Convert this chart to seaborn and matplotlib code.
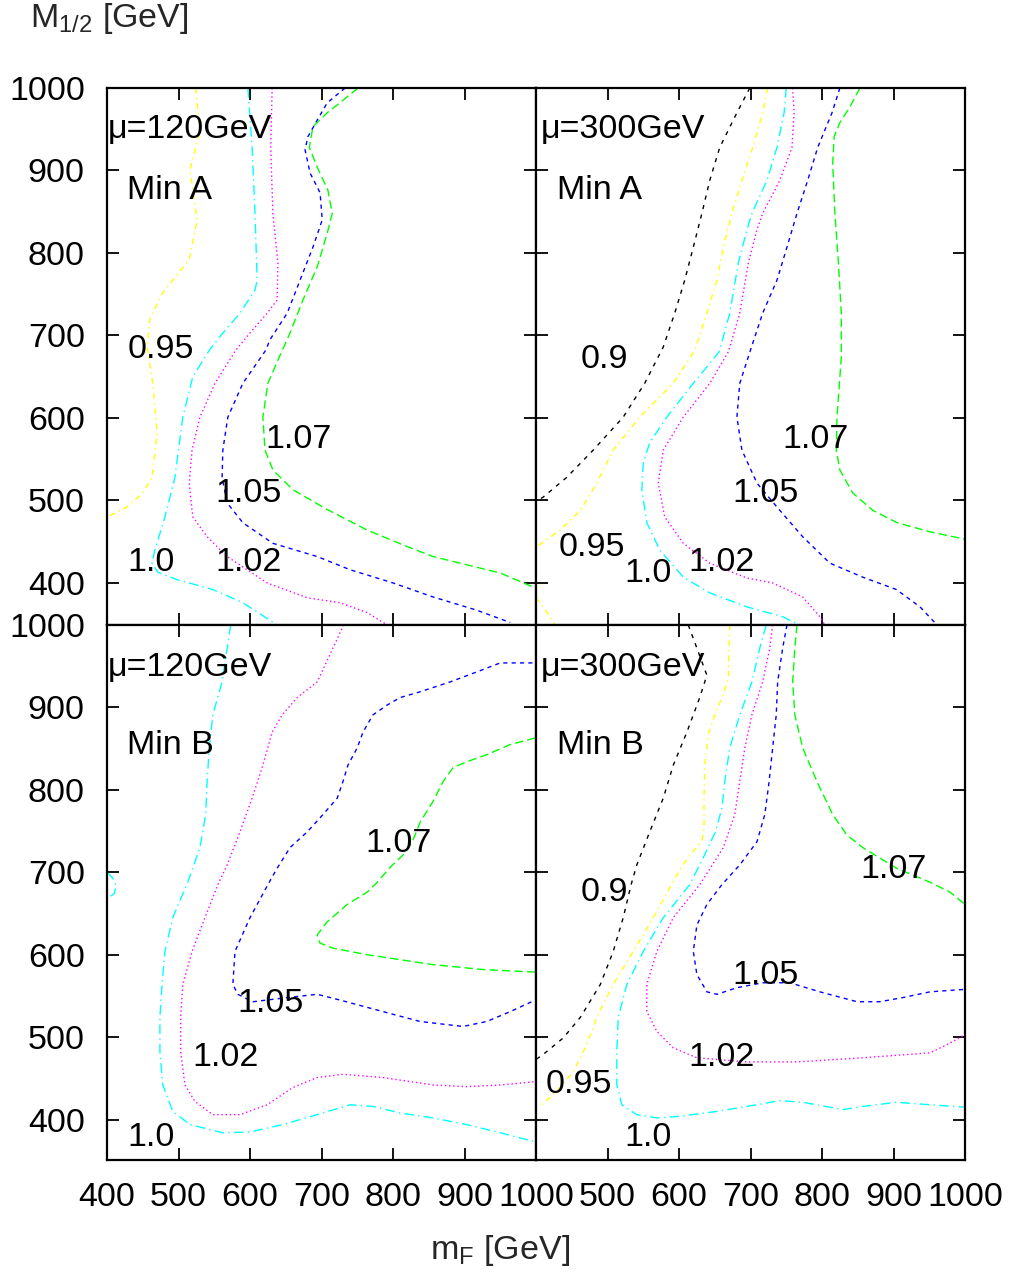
import numpy as np
import pandas as pd
import matplotlib
matplotlib.use("Agg")
import matplotlib.pyplot as plt
import matplotlib.transforms as mtransforms
import seaborn as sns

# ---------------- data ----------------
# Panel A120: mu=120GeV, Min A
A120_c095 = [(524,1000),(530,949),(516,901),(526,840),(515,792),(478,752),(460,720),(456,686),(464,642),(470,582),(463,528),(450,509),(428,492),(400,480)]
A120_c100 = [(597,1000),(603,928),(607,848),(610,767),(607,755),(586,727),(562,703),(543,682),(520,650),(506,601),(495,528),(481,480),(467,440),(463,424),(471,413),(498,404),(548,392),(590,376),(638,349)]
A120_c102 = [(631,1000),(629,928),(632,848),(639,788),(638,743),(624,727),(600,703),(580,682),(551,642),(530,601),(519,561),(515,521),(520,480),(540,456),(568,432),(624,400),(680,382),(726,376),(764,364),(792,349)]
A120_c105 = [(733,1000),(708,982),(694,961),(681,941),(677,925),(684,897),(698,873),(701,840),(688,807),(670,767),(652,727),(628,695),(622,682),(590,642),(569,601),(562,561),(561,528),(568,497),(590,473),(632,448),(694,432),(740,416),(800,400),(856,383),(917,367),(964,352)]
A120_c107 = [(751,1000),(730,985),(708,970),(688,953),(683,928),(694,904),(709,876),(715,848),(708,824),(694,783),(674,743),(656,703),(642,676),(625,642),(618,601),(621,561),(632,537),(660,513),(708,489),(764,464),(820,444),(856,432),(903,422),(950,412),(999,394)]

# Panel A300: mu=300GeV, Min A
A300_c090 = [(699,1000),(681,970),(657,928),(643,888),(632,848),(620,807),(608,767),(594,727),(578,686),(552,642),(522,601),(480,561),(443,528),(410,504),(400,499)]
A300_c095 = [(724,1000),(717,970),(703,928),(688,888),(674,848),(662,807),(653,767),(639,727),(622,682),(592,642),(545,601),(508,561),(485,521),(462,488),(434,464),(401,444)]
A300_c095b = [(400,382),(413,367),(427,349)]
A300_c100 = [(750,1000),(747,970),(737,928),(723,888),(702,848),(695,828),(683,788),(671,727),(656,680),(620,642),(583,601),(559,570),(550,545),(548,513),(555,473),(573,440),(606,407),(643,388),(695,371),(745,359),(769,349)]
A300_c102 = [(759,1000),(761,970),(758,928),(741,888),(717,848),(709,828),(697,788),(685,727),(669,680),(643,642),(606,601),(578,561),(571,521),(580,480),(606,448),(643,424),(695,406),(731,400),(773,383),(797,359),(804,349)]
A300_c105 = [(825,1000),(814,970),(794,928),(780,888),(765,848),(751,807),(737,767),(717,727),(701,685),(685,642),(681,601),(688,561),(709,521),(737,492),(773,456),(811,424),(857,407),(904,392),(937,371),(961,349)]
A300_c107 = [(853,1000),(839,977),(825,958),(817,941),(815,909),(818,848),(823,788),(827,727),(827,674),(821,601),(820,561),(825,537),(843,509),(871,488),(905,473),(951,462),(1000,453)]

# Panel B120: mu=120GeV, Min B
B120_c100 = [(573,1000),(561,931),(548,891),(543,851),(540,810),(538,770),(530,730),(513,688),(492,645),(481,604),(477,564),(474,524),(474,482),(478,442),(492,410),(516,394),(562,384),(600,385),(646,394),(694,406),(740,418),(772,416),(810,408),(856,402),(903,394),(950,384),(999,373)]
B120_c100b = [(400,700),(408,693),(413,684),(410,674),(400,668)]
B120_c102 = [(731,1000),(716,972),(694,931),(666,912),(645,891),(631,870),(618,830),(603,790),(586,749),(568,709),(555,685),(537,645),(519,604),(506,564),(503,524),(503,482),(509,442),(523,422),(548,406),(586,406),(624,418),(660,439),(694,451),(730,455),(786,451),(856,442),(903,440),(950,442),(999,446)]
B120_c105 = [(995,954),(950,954),(917,943),(880,931),(838,919),(810,912),(792,903),(772,891),(758,870),(750,851),(737,830),(730,810),(722,790),(702,770),(680,749),(656,730),(638,705),(625,685),(600,645),(579,604),(576,564),(583,552),(604,543),(652,548),(694,552),(726,545),(786,531),(838,519),(898,513),(931,519),(964,531),(999,545)]
B120_c107 = [(999,863),(964,855),(932,843),(903,834),(884,827),(870,810),(856,786),(838,761),(827,737),(814,721),(796,706),(778,688),(764,676),(736,661),(708,640),(694,624),(698,614),(716,608),(764,600),(810,594),(856,588),(926,582),(999,579)]

# Panel B300: mu=300GeV, Min B
B300_c090 = [(613,1000),(625,972),(639,939),(629,912),(611,870),(592,830),(578,790),(559,749),(541,709),(533,685),(522,645),(508,604),(490,564),(462,524),(438,499),(410,479),(400,473)]
B300_c095 = [(671,1000),(670,972),(669,936),(660,912),(650,891),(641,867),(636,830),(635,790),(635,754),(632,737),(615,721),(597,697),(587,681),(564,645),(536,604),(508,564),(485,524),(471,491),(452,458),(429,434),(408,418)]
B300_c100 = [(722,1000),(713,972),(702,931),(685,891),(671,851),(664,810),(660,778),(651,749),(634,718),(615,685),(578,645),(550,604),(527,564),(515,524),(513,482),(513,442),(520,418),(541,406),(569,402),(601,404),(653,410),(695,416),(741,423),(773,421),(811,415),(829,412),(857,416),(904,421),(951,418),(1000,415)]
B300_c102 = [(731,1000),(727,972),(717,931),(702,891),(692,851),(685,810),(678,770),(662,730),(629,685),(592,645),(569,604),(555,564),(555,531),(569,507),(592,487),(625,475),(695,470),(765,470),(857,475),(951,481),(975,491),(1000,503)]
B300_c105 = [(751,1000),(745,972),(738,931),(736,891),(731,851),(726,810),(720,770),(709,737),(685,709),(660,685),(639,661),(625,636),(620,604),(625,576),(639,555),(653,552),(681,560),(717,566),(755,566),(797,555),(849,543),(881,543),(913,548),(951,555),(1000,558)]
B300_c107 = [(765,1000),(762,972),(759,931),(762,891),(773,851),(793,810),(815,770),(835,745),(857,730),(904,705),(951,688),(979,676),(1000,661)]

# contour labels: (x, y, text)
A120_labels = [(401,953,"\u03bc=120GeV"),(428,879,"Min A"),(429,687,"0.95"),(621,577,"1.07"),(551,512,"1.05"),(429,428,"1.0"),(551,428,"1.02")]
A300_labels = [(407,953,"\u03bc=300GeV"),(429,879,"Min A"),(462,675,"0.9"),(744,577,"1.07"),(674,512,"1.05"),(431,446,"0.95"),(524,415,"1.0"),(613,428,"1.02")]
B120_labels = [(401,952,"\u03bc=120GeV"),(428,858,"Min B"),(761,739,"1.07"),(582,545,"1.05"),(520,479,"1.02"),(429,382,"1.0")]
B300_labels = [(407,952,"\u03bc=300GeV"),(429,858,"Min B"),(853,707,"1.07"),(462,679,"0.9"),(674,578,"1.05"),(613,479,"1.02"),(413,446,"0.95"),(524,382,"1.0")]

x_ticks = [400, 500, 600, 700, 800, 900, 1000]
y_ticks = [400, 500, 600, 700, 800, 900, 1000]
x_ticklabels_left = ["400", "500", "600", "700", "800", "900", "1000"]
x_ticklabels_right = ["", "500", "600", "700", "800", "900", "1000"]

panels = {
    "A120": {"0.95": [A120_c095], "1.0": [A120_c100], "1.02": [A120_c102], "1.05": [A120_c105], "1.07": [A120_c107]},
    "A300": {"0.9": [A300_c090], "0.95": [A300_c095, A300_c095b], "1.0": [A300_c100], "1.02": [A300_c102], "1.05": [A300_c105], "1.07": [A300_c107]},
    "B120": {"1.0": [B120_c100, B120_c100b], "1.02": [B120_c102], "1.05": [B120_c105], "1.07": [B120_c107]},
    "B300": {"0.9": [B300_c090], "0.95": [B300_c095], "1.0": [B300_c100], "1.02": [B300_c102], "1.05": [B300_c105], "1.07": [B300_c107]},
}
labels = {"A120": A120_labels, "A300": A300_labels, "B120": B120_labels, "B300": B300_labels}

styles = {
    "0.9":  ("#000000", (0, (3, 4))),
    "0.95": ("#ffff00", (0, (4, 3, 1, 3))),
    "1.0":  ("#00ffff", (0, (7, 3, 1, 3))),
    "1.02": ("#ff00ff", (0, (1, 2))),
    "1.05": ("#0000ff", (0, (3, 3))),
    "1.07": ("#00ff00", (0, (6, 3))),
}

rows = []
for pname, levels in panels.items():
    for lev, segs in levels.items():
        for si, seg in enumerate(segs):
            for oi, (xv, yv) in enumerate(seg):
                rows.append({"panel": pname, "level": lev, "seg": si, "order": oi, "x": xv, "y": yv})
df = pd.DataFrame(rows)

# ---------------- plotting ----------------
sns.set_theme(style="white")
plt.rcParams['font.family'] = ['Liberation Sans', 'DejaVu Sans']
plt.rcParams['mathtext.fontset'] = 'custom'
plt.rcParams['mathtext.rm'] = 'Liberation Sans'
plt.rcParams['mathtext.it'] = 'Liberation Sans'
plt.rcParams['mathtext.default'] = 'regular'

W, H = 1011, 1276
fig = plt.figure(figsize=(W / 100, H / 100), dpi=100)
fig.patch.set_facecolor("white")

xl, xm, xr = 107, 536, 965
yt, ym, yb = 88, 625, 1160

def frac_rect(x0, x1, y0, y1):
    return [x0 / W, 1 - y1 / H, (x1 - x0) / W, (y1 - y0) / H]

layout = {
    "A120": (frac_rect(xl, xm, yt, ym), (349, 1000), True, False),
    "A300": (frac_rect(xm, xr, yt, ym), (349, 1000), False, False),
    "B120": (frac_rect(xl, xm, ym, yb), (351, 1000), True, True),
    "B300": (frac_rect(xm, xr, ym, yb), (351, 1000), False, True),
}

FS = 24.5
for pname, (rect, ylim, left_labels, bottom_labels) in layout.items():
    ax = fig.add_axes(rect)
    ax.set_facecolor("white")
    sub = df[df.panel == pname]
    for (lev, seg), g in sub.groupby(["level", "seg"], sort=False):
        color, ls = styles[lev]
        g = g.sort_values("order")
        sns.lineplot(data=g, x="x", y="y", sort=False, estimator=None,
                     color=color, linestyle=ls, lw=1.0, ax=ax, legend=False)
    text_tr = mtransforms.offset_copy(ax.transData, fig=fig, x=0, y=-3, units="dots")
    for (tx, ty, s) in labels[pname]:
        ax.text(tx, ty, s, ha="left", va="center", fontsize=FS, color="black",
                transform=text_tr)
    ax.set_xlim(400, 1000)
    ax.set_ylim(*ylim)
    ax.set_xticks(x_ticks)
    ax.set_yticks(y_ticks)
    ax.set_xlabel("")
    ax.set_ylabel("")
    if bottom_labels:
        ax.set_xticklabels(x_ticklabels_left if left_labels else x_ticklabels_right)
    if left_labels:
        ax.set_yticklabels([str(v) for v in y_ticks])
    ax.tick_params(axis="both", which="both", direction="in", length=8.6, width=1.3,
                   color="black", top=True, right=True, bottom=True, left=True,
                   labelsize=FS, labelcolor="black",
                   labelbottom=bottom_labels, labelleft=left_labels)
    ax.tick_params(axis="x", pad=16)
    ax.tick_params(axis="y", pad=16)
    for sp in ax.spines.values():
        sp.set_visible(True)
        sp.set_color("black")
        sp.set_linewidth(1.6)

fig.text(30 / W, 1 - 18 / H, "M$_{1/2}$ [GeV]", ha="left", va="center", fontsize=FS)
fig.text(500 / W, 1 - 1250 / H, "m$_F$ [GeV]", ha="center", va="center", fontsize=FS)

fig.savefig("out.png", dpi=100, facecolor="white")
